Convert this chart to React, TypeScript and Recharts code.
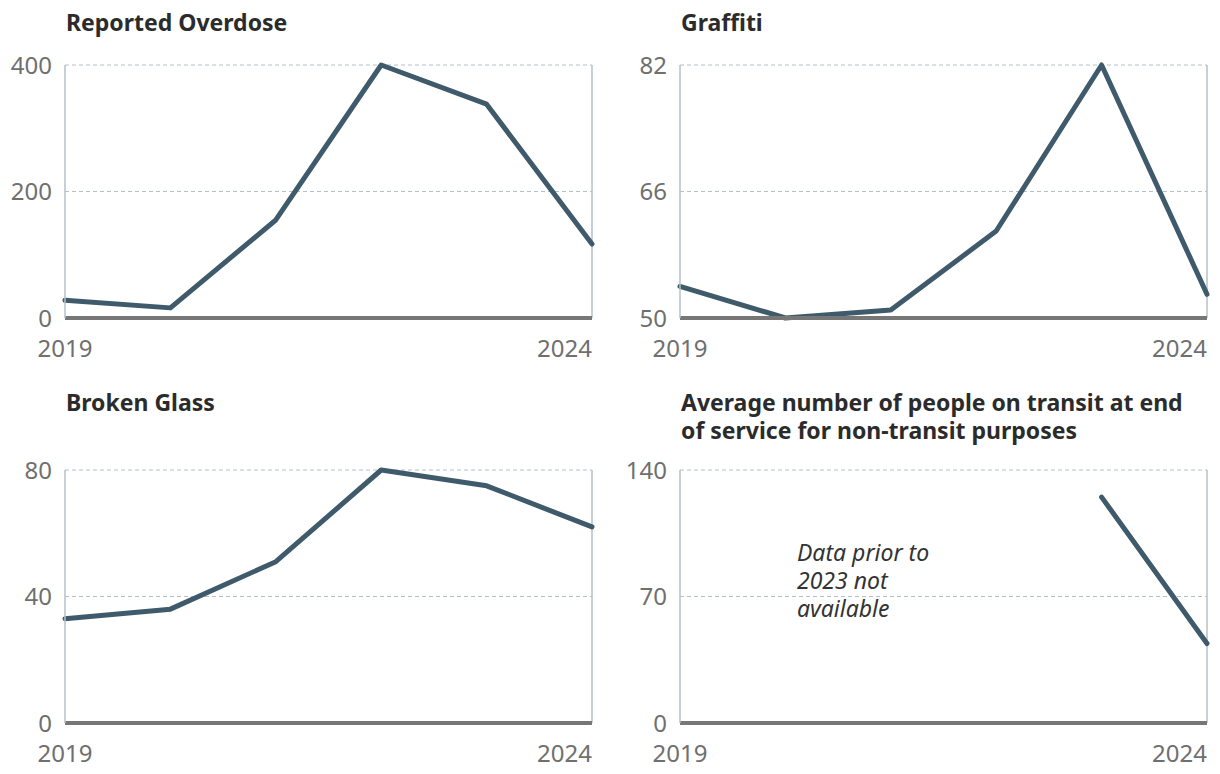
import {
  CartesianGrid,
  Line,
  LineChart,
  ReferenceLine,
  XAxis,
  YAxis,
} from "recharts";

// years on the x axis
const years = [2019, 2020, 2021, 2022, 2023, 2024];
const yearTicks = [2019, 2024];

// series
const overdose = [28, 16, 155, 400, 338, 117];
const graffiti = [54, 50, 51, 61, 82, 53];
const brokenGlass = [33, 36, 51, 80, 75, 62];
const transitRiders: (number | null)[] = [null, null, null, null, 125, 44];

const overdoseTicks = [0, 200, 400];
const graffitiTicks = [50, 66, 82];
const glassTicks = [0, 40, 80];
const transitTicks = [0, 70, 140];

const FONT = "'Noto Sans', sans-serif";
const LINE = "#3f5a6b";
const GRID = "#b4c0ca";
const TICK = "#6f6f6f";

const XTick = (props: any) => {
  const { x, y, payload } = props;
  const last = payload.value === yearTicks[yearTicks.length - 1];
  return (
    <text
      x={x}
      y={y + 25}
      textAnchor={last ? "end" : "middle"}
      fill={TICK}
      fontSize={24}
      fontFamily={FONT}
      dominantBaseline="middle"
    >
      {payload.value}
    </text>
  );
};

const Panel = ({
  title,
  titleTop,
  values,
  ticks,
  left,
  top,
  children,
}: {
  title: string[];
  titleTop: number;
  values: (number | null)[];
  ticks: number[];
  left: number;
  top: number;
  children?: any;
}) => {
  const data = years.map((year, i) => ({ year, value: values[i] }));
  return (
    <div style={{ position: "absolute", left, top, width: 610, height: 400 }}>
      <div
        style={{
          position: "absolute",
          left: 66,
          top: titleTop,
          fontFamily: FONT,
          fontWeight: 700,
          fontSize: 23,
          lineHeight: "28px",
          color: "#2b2b2b",
          whiteSpace: "nowrap",
        }}
      >
        {title.map((t) => (
          <div key={t}>{t}</div>
        ))}
      </div>
      <div style={{ position: "absolute", left: 0, top: 40 }}>
        <LineChart
          width={610}
          height={330}
          data={data}
          margin={{ top: 25, right: 18, bottom: 12, left: 10 }}
        >
          <CartesianGrid
            vertical={false}
            stroke={GRID}
            strokeDasharray="4 3"
          />
          <ReferenceLine x={2024} stroke={GRID} strokeWidth={1.5} />
          <XAxis
            dataKey="year"
            type="number"
            domain={[2019, 2024]}
            ticks={yearTicks}
            tick={<XTick />}
            tickLine={false}
            axisLine={{ stroke: "#777", strokeWidth: 4 }}
            height={40}
          />
          <YAxis
            domain={[ticks[0], ticks[ticks.length - 1]]}
            ticks={ticks}
            width={55}
            tickLine={false}
            tickSize={0}
            tickMargin={13}
            axisLine={{ stroke: GRID, strokeWidth: 1.5 }}
            tick={{ fill: TICK, fontSize: 24, fontFamily: FONT }}
          />
          <Line
            type="linear"
            dataKey="value"
            stroke={LINE}
            strokeWidth={5}
            dot={false}
            activeDot={false}
            strokeLinejoin="round"
            strokeLinecap="round"
            isAnimationActive={false}
          />
        </LineChart>
      </div>
      {children}
    </div>
  );
};

export default function App() {
  return (
    <div
      style={{
        position: "absolute",
        left: 0,
        top: 0,
        width: 1220,
        height: 774,
        background: "#fff",
      }}
    >
      <Panel title={["Reported Overdose"]} titleTop={8} values={overdose} ticks={overdoseTicks} left={0} top={0} />
      <Panel title={["Graffiti"]} titleTop={8} values={graffiti} ticks={graffitiTicks} left={615} top={0} />
      <Panel title={["Broken Glass"]} titleTop={-17} values={brokenGlass} ticks={glassTicks} left={0} top={405} />
      <Panel
        title={["Average number of people on transit at end", "of service for non-transit purposes"]}
        titleTop={-17}
        values={transitRiders}
        ticks={transitTicks}
        left={615}
        top={405}
      >
        <div
          style={{
            position: "absolute",
            left: 182,
            top: 133,
            fontFamily: FONT,
            fontStyle: "italic",
            fontSize: 23,
            lineHeight: "28px",
            color: "#333",
          }}
        >
          Data prior to
          <br />
          2023 not
          <br />
          available
        </div>
      </Panel>
    </div>
  );
}
